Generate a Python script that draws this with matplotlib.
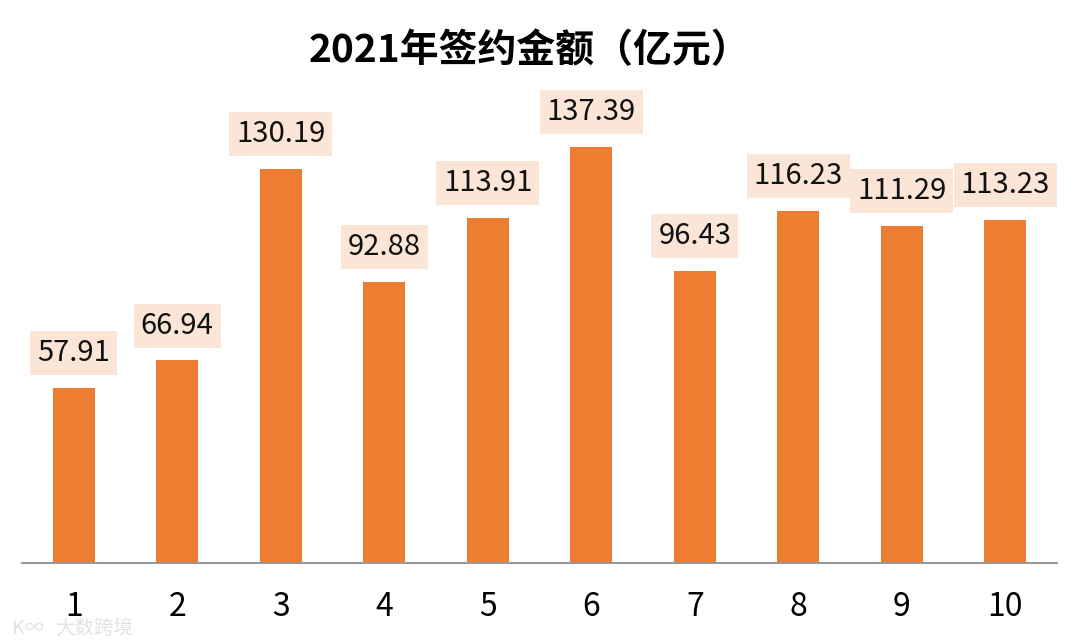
import matplotlib
matplotlib.use("Agg")
import matplotlib.pyplot as plt

plt.rcParams['font.family'] = ['Noto Sans CJK SC', 'DejaVu Sans']

months = ['1', '2', '3', '4', '5', '6', '7', '8', '9', '10']
amounts = [57.91, 66.94, 130.19, 92.88, 113.91, 137.39, 96.43, 116.23, 111.29, 113.23]
title = '2021年签约金额（亿元）'

bar_color = '#ED7D31'
box_color = '#FBE5D6'

fig = plt.figure(figsize=(10.8, 6.43), dpi=100)
ax = fig.add_axes([22/1080, 80/643, 1035/1080, 463/643])

x = list(range(len(months)))
ax.bar(x, amounts, width=0.41, color=bar_color, zorder=2)
ax.set_xlim(-0.5, len(months) - 0.5)
ax.set_ylim(0, 463/3.028)

for xi, v in zip(x, amounts):
    ax.annotate(f'{v:.2f}', (xi, v), xytext=(0, 25), textcoords='offset points',
                ha='center', va='center', fontsize=21, color='#111111',
                bbox=dict(boxstyle='square,pad=0.24', fc=box_color, ec='none'))

for s in ['top', 'right', 'left']:
    ax.spines[s].set_visible(False)
ax.spines['bottom'].set_color('#999999')
ax.spines['bottom'].set_linewidth(1.5)
ax.set_yticks([])
ax.set_xticks(x)
ax.set_xticklabels(months, fontsize=23)
ax.tick_params(axis='x', length=0, pad=20)

fig.text(529/1080, 1 - 51/643, title, ha='center', va='center',
         fontsize=28, fontweight='bold', color='black')

# watermark
fig.text(55/1080, 1 - 628/643, '大数跨境', ha='left', va='center', fontsize=14,
         color='#e3e3e3', zorder=0)
fig.text(12/1080, 1 - 628/643, 'K∞', ha='left', va='center', fontsize=14,
         color='#e3e3e3', zorder=0)

fig.savefig('out.png', dpi=100)
